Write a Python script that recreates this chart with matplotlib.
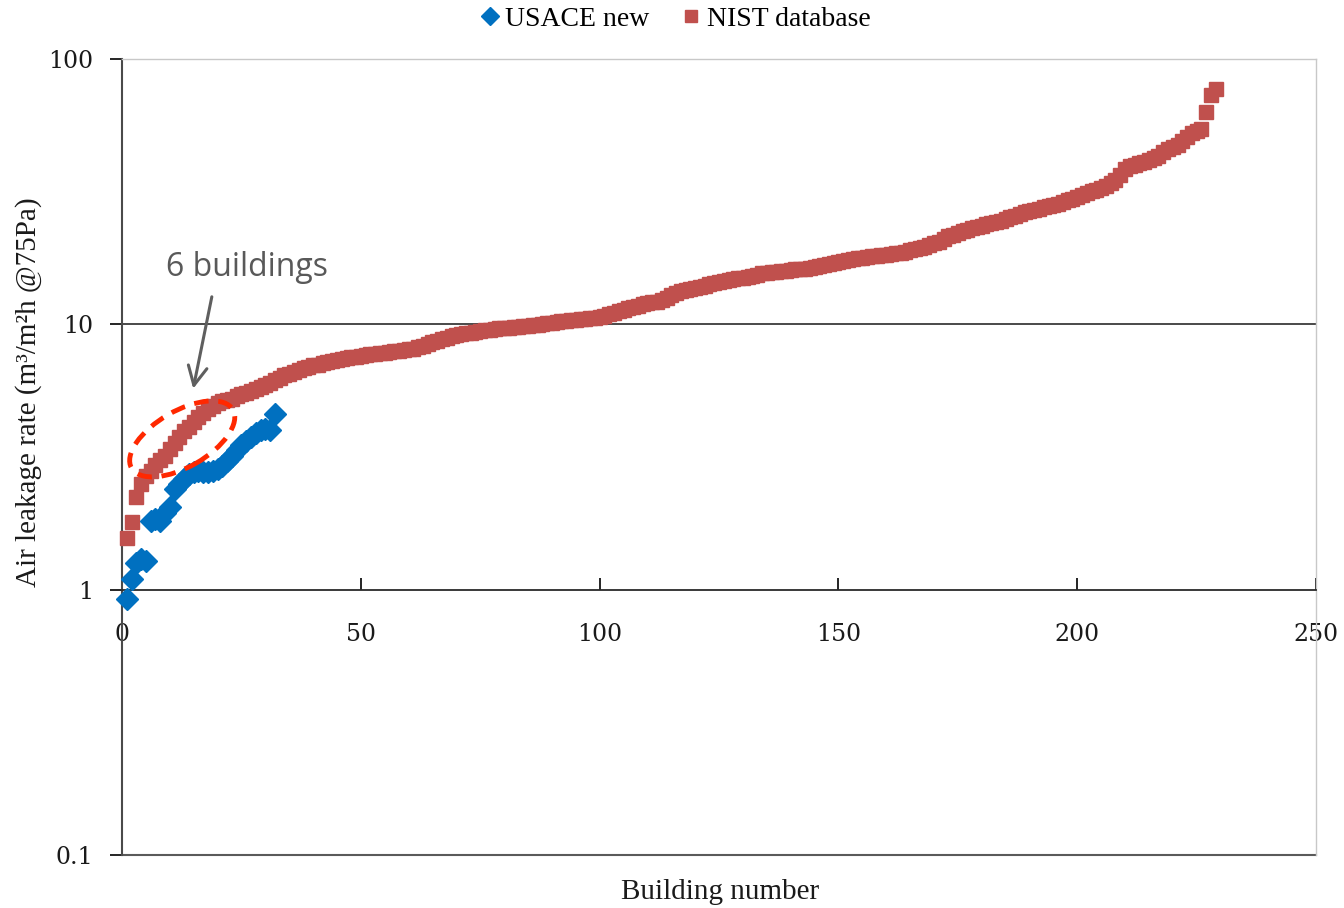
#%% Imports
from matplotlib import pyplot as plt
from matplotlib.patches import Ellipse
import matplotlib.transforms as mtransforms
import numpy as np

#%% Data
usace_new = [0.92, 1.10, 1.26, 1.30, 1.28, 1.82, 1.84, 1.82, 1.95, 2.05,
             2.40, 2.50, 2.62, 2.72, 2.78, 2.80, 2.78, 2.78, 2.80, 2.85,
             2.92, 3.05, 3.20, 3.35, 3.50, 3.62, 3.75, 3.90, 4.00, 4.02,
             3.98, 4.60]

nist_db = [1.57, 1.80, 2.24, 2.51, 2.69, 2.80, 2.95, 3.08, 3.20, 3.40,
           3.58, 3.77, 3.95, 4.10, 4.30, 4.48, 4.62, 4.78, 4.92, 5.05,
           5.12, 5.20, 5.25, 5.35, 5.45, 5.52, 5.62, 5.72, 5.82, 5.92,
           6.02, 6.15, 6.30, 6.42, 6.52, 6.62, 6.72, 6.82, 6.92, 7.00,
           7.05, 7.12, 7.20, 7.28, 7.35, 7.40, 7.45, 7.50, 7.56, 7.60,
           7.65, 7.70, 7.74, 7.78, 7.82, 7.86, 7.90, 7.95, 8.00, 8.05,
           8.10, 8.18, 8.28, 8.40, 8.55, 8.68, 8.80, 8.90, 9.00, 9.10,
           9.18, 9.25, 9.30, 9.38, 9.45, 9.50, 9.55, 9.60, 9.65, 9.70,
           9.72, 9.76, 9.80, 9.83, 9.86, 9.90, 9.95, 10.0, 10.1, 10.15,
           10.2, 10.25, 10.3, 10.35, 10.4, 10.45, 10.5, 10.55, 10.6, 10.65,
           10.75, 10.9, 11.0, 11.2, 11.35, 11.5, 11.6, 11.75, 11.9, 12.0,
           12.1, 12.15, 12.3, 12.6, 12.9, 13.1, 13.3, 13.45, 13.6, 13.7,
           13.85, 14.0, 14.15, 14.3, 14.45, 14.6, 14.7, 14.8, 14.9, 15.0,
           15.1, 15.25, 15.4, 15.55, 15.65, 15.7, 15.8, 15.85, 15.95, 16.0,
           16.1, 16.15, 16.2, 16.3, 16.45, 16.6, 16.75, 16.9, 17.05, 17.2,
           17.35, 17.5, 17.6, 17.75, 17.85, 17.95, 18.05, 18.1, 18.2, 18.3,
           18.4, 18.5, 18.65, 18.8, 19.0, 19.2, 19.4, 19.65, 19.9, 20.2,
           20.5, 21.0, 21.5, 21.8, 22.1, 22.4, 22.7, 23.0, 23.2, 23.5,
           23.8, 24.1, 24.4, 24.6, 24.9, 25.3, 25.6, 26.0, 26.4, 26.7,
           27.0, 27.3, 27.6, 27.9, 28.2, 28.5, 28.9, 29.3, 29.7, 30.1,
           30.6, 31.2, 31.7, 32.2, 32.7, 33.2, 34.0, 35.0, 36.5, 38.5,
           39.5, 40.0, 40.5, 41.0, 41.8, 42.5, 43.2, 44.5, 45.8, 46.6,
           47.5, 49.0, 51.0, 52.5, 53.5, 54.5, 63.0, 73.0, 77.0]

x_ticks = [0, 50, 100, 150, 200, 250]
y_ticks = [0.1, 1, 10, 100]
y_tick_labels = ["0.1", "1", "10", "100"]

serif = "Liberation Serif"
tick_font = "DejaVu Serif"
txt_col = "#1a1a1a"

# %% Figure
fig = plt.figure(figsize=(13.44, 9.08), dpi=100)
ax = fig.add_axes([0.0908, 0.0584, 0.8884, 0.8766])

ax.set_yscale("log")
ax.set_xlim(0, 250)
ax.set_ylim(0.1, 100)

# gridline at 10 and plot box
ax.axhline(10, color="#3a3a3a", lw=1.3, zorder=1)
ax.axhline(0.1, color="#5a5a5a", lw=1.5, zorder=1, clip_on=False)
for s in ["top", "right"]:
    ax.spines[s].set_color("#c8c8c8")
    ax.spines[s].set_linewidth(1.0)
ax.spines["left"].set_color("#4a4a4a")
ax.spines["left"].set_linewidth(1.5)
ax.spines["bottom"].set_position(("data", 1))
ax.spines["bottom"].set_color("#2a2a2a")
ax.spines["bottom"].set_linewidth(1.3)

ax.set_xticks(x_ticks)
ax.set_xticklabels([str(t) for t in x_ticks], fontsize=17, family=tick_font, color=txt_col)
ax.tick_params(axis="x", direction="in", length=9, width=1.2, pad=24)
ax.set_yticks(y_ticks)
ax.set_yticklabels(y_tick_labels, fontsize=17, family=tick_font, color=txt_col)
ax.yaxis.set_minor_locator(plt.NullLocator())
ax.tick_params(axis="y", direction="out", length=9, width=1.2, pad=12)

# %% Series
ax.plot(np.arange(1, len(nist_db) + 1), nist_db, "s", color="#C0504D",
        ms=10.5, mec="#C0504D", label="NIST database", zorder=3, clip_on=False)
ax.plot(np.arange(1, len(usace_new) + 1), usace_new, "D", color="#0070C0",
        ms=11, mec="#0070C0", label="USACE new", zorder=4, clip_on=False)

# %% Annotation
ell_tr = fig.dpi_scale_trans + mtransforms.ScaledTranslation(12.6, 3.70, ax.transData)
ax.add_patch(Ellipse((0, 0), 1.17, 0.56, angle=30, transform=ell_tr, fill=False,
                     ec="#FF2800", lw=3.5, ls=(0, (3.0, 2.0)), zorder=5))
ax.annotate("", xy=(14.9, 5.72), xytext=(18.8, 12.7),
            arrowprops=dict(arrowstyle="->", color="#5f5f5f", lw=2.2,
                            mutation_scale=34, shrinkA=0, shrinkB=0), zorder=6)
ax.text(26.2, 16.4, "6 buildings", ha="center", va="center", fontsize=23,
        color="#595959", family="Open Sans")

# %% Labels and legend
h, l = ax.get_legend_handles_labels()
fig.legend(h[::-1], l[::-1], loc="center", bbox_to_anchor=(0.502, 0.979), ncol=2,
           frameon=False, handlelength=0.8, handletextpad=0.15, columnspacing=1.1,
           markerscale=0.8, prop=dict(family=serif, size=20))
fig.text(0.536, 0.0176, "Building number", ha="center", va="center",
         fontsize=21, family=serif, color=txt_col)
fig.text(0.021, 0.568, "Air leakage rate (m³/m²h @75Pa)", ha="center", va="center",
         rotation=90, fontsize=21, family=serif, color=txt_col)

fig.savefig("out.png", dpi=100)
